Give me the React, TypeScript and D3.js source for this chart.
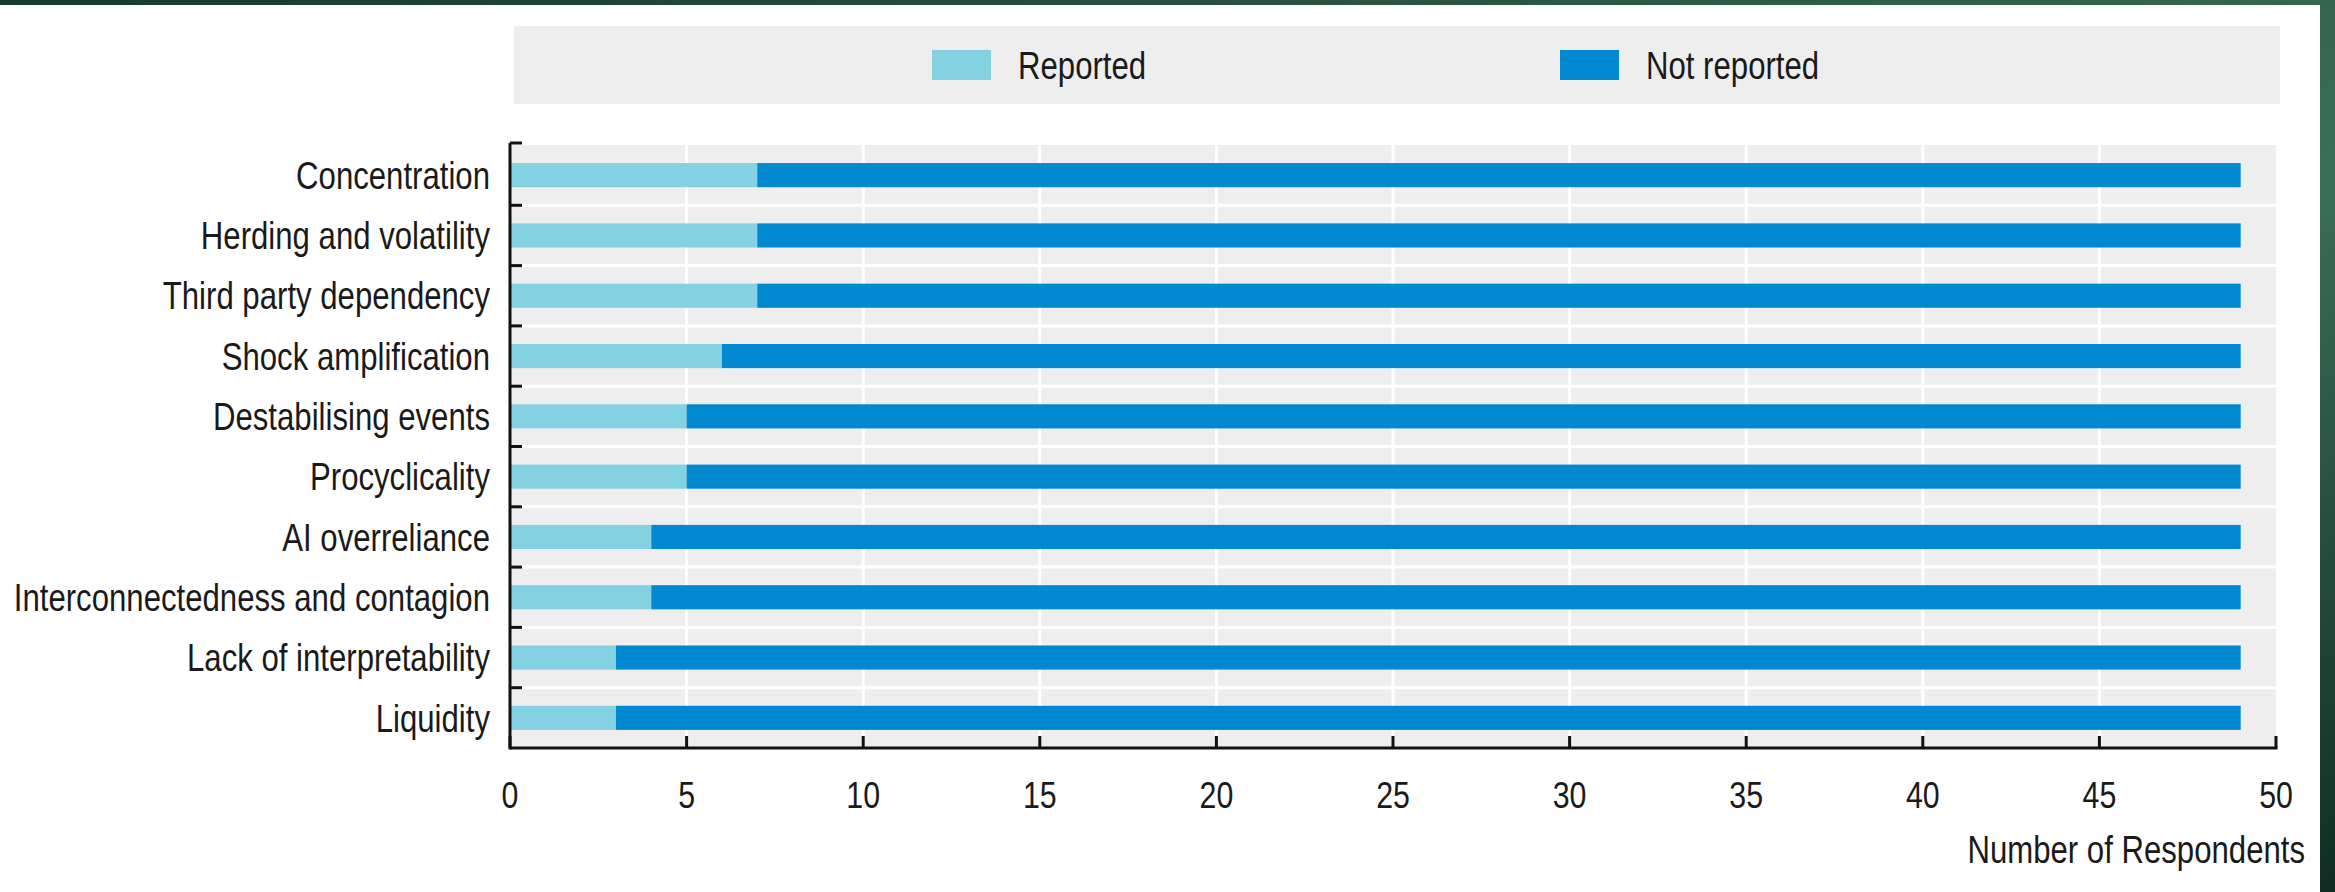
import React, { useEffect, useRef } from "react";
import * as d3 from "d3";

const categories = [
  "Concentration",
  "Herding and volatility",
  "Third party dependency",
  "Shock amplification",
  "Destabilising events",
  "Procyclicality",
  "AI overreliance",
  "Interconnectedness and contagion",
  "Lack of interpretability",
  "Liquidity",
];
const reported = [7, 7, 7, 6, 5, 5, 4, 4, 3, 3];
const notReported = [42, 42, 42, 43, 44, 44, 45, 45, 46, 46];
const xTicks = [0, 5, 10, 15, 20, 25, 30, 35, 40, 45, 50];
const seriesNames = ["Reported", "Not reported"];
const seriesColors = ["#84d1e1", "#0088d0"];

// no narrow font installed, so squeeze Liberation Sans horizontally
const FONT = "'Liberation Sans', Arial, sans-serif";
const NARROW = 0.82;

export default function App() {
  const ref = useRef<SVGSVGElement>(null);

  useEffect(() => {
    if (!ref.current) return;
    const width = 2335;
    const height = 892;
    const svg = d3.select(ref.current);
    svg.selectAll("*").remove();

    const label = (
      px: number,
      py: number,
      txt: string,
      anchor = "start",
      size = 38,
      dy = "0"
    ) =>
      svg
        .append("text")
        .attr("transform", `translate(${px},${py}) scale(${NARROW},1)`)
        .attr("dy", dy)
        .attr("text-anchor", anchor)
        .style("font-family", FONT)
        .style("font-size", `${size}px`)
        .attr("fill", "#1a1a1a")
        .text(txt);

    // background frame (green gradient like the slide)
    const defs = svg.append("defs");
    const grad = defs
      .append("linearGradient")
      .attr("id", "bg")
      .attr("x1", "0%")
      .attr("y1", "0%")
      .attr("x2", "100%")
      .attr("y2", "100%");
    grad.append("stop").attr("offset", "0%").attr("stop-color", "#163a2b");
    grad.append("stop").attr("offset", "60%").attr("stop-color", "#3b6f57");
    grad.append("stop").attr("offset", "100%").attr("stop-color", "#0f2d22");
    svg.append("rect").attr("width", width).attr("height", height).attr("fill", "url(#bg)");
    svg.append("rect").attr("x", 0).attr("y", 5).attr("width", 2320).attr("height", height - 5).attr("fill", "#fff");

    const margin = { top: 145, left: 510, right: 2276, bottom: 748 };

    const x = d3.scaleLinear().domain([0, 50]).range([margin.left, margin.right]);
    const y = d3.scaleBand<string>().domain(categories).range([margin.top, margin.bottom]);
    const barH = y.bandwidth() * 0.4;

    // legend
    svg
      .append("rect")
      .attr("x", 514)
      .attr("y", 26)
      .attr("width", 2280 - 514)
      .attr("height", 78)
      .attr("fill", "#eeeeee");
    const legendX = [932, 1560];
    seriesNames.forEach((name, i) => {
      svg
        .append("rect")
        .attr("x", legendX[i])
        .attr("y", 50)
        .attr("width", 59)
        .attr("height", 30)
        .attr("fill", seriesColors[i]);
      label(legendX[i] + 86, 65, name, "start", 38, "0.36em");
    });

    // plot background
    svg
      .append("rect")
      .attr("x", margin.left)
      .attr("y", margin.top)
      .attr("width", margin.right - margin.left)
      .attr("height", margin.bottom - margin.top)
      .attr("fill", "#eeeeee");

    // white gridlines
    svg
      .selectAll(".vgrid")
      .data(xTicks.slice(1, -1))
      .enter()
      .append("line")
      .attr("x1", (d) => x(d))
      .attr("x2", (d) => x(d))
      .attr("y1", margin.top)
      .attr("y2", margin.bottom)
      .attr("stroke", "#fff")
      .attr("stroke-width", 3);
    svg
      .selectAll(".hgrid")
      .data(categories.slice(1))
      .enter()
      .append("line")
      .attr("x1", margin.left)
      .attr("x2", margin.right)
      .attr("y1", (d) => y(d)!)
      .attr("y2", (d) => y(d)!)
      .attr("stroke", "#fff")
      .attr("stroke-width", 3);

    // stacked bars
    const rows = categories.map((c, i) => ({ c, r: reported[i], n: notReported[i] }));
    const stack = d3.stack<any>().keys(["r", "n"])(rows);
    stack.forEach((layer, li) => {
      svg
        .selectAll(`.bar${li}`)
        .data(layer)
        .enter()
        .append("rect")
        .attr("x", (d) => x(d[0]))
        .attr("width", (d) => x(d[1]) - x(d[0]))
        .attr("y", (d) => y(d.data.c)! + (y.bandwidth() - barH) / 2)
        .attr("height", barH)
        .attr("fill", seriesColors[li]);
    });

    // y axis
    svg
      .append("line")
      .attr("x1", margin.left)
      .attr("x2", margin.left)
      .attr("y1", margin.top - 2)
      .attr("y2", margin.bottom + 1.5)
      .attr("stroke", "#111")
      .attr("stroke-width", 3);
    const yTickPos = categories.map((c) => y(c)!);
    svg
      .selectAll(".ytick")
      .data(yTickPos)
      .enter()
      .append("line")
      .attr("x1", margin.left)
      .attr("x2", margin.left + 12)
      .attr("y1", (d, i) => (i === 0 ? d - 2 : d))
      .attr("y2", (d, i) => (i === 0 ? d - 2 : d))
      .attr("stroke", "#111")
      .attr("stroke-width", 3);
    categories.forEach((c) => label(490, y(c)! + y.bandwidth() / 2, c, "end", 38, "0.36em"));

    // x axis
    svg
      .append("line")
      .attr("x1", margin.left)
      .attr("x2", margin.right + 1.5)
      .attr("y1", margin.bottom)
      .attr("y2", margin.bottom)
      .attr("stroke", "#111")
      .attr("stroke-width", 3);
    svg
      .selectAll(".xtick")
      .data(xTicks)
      .enter()
      .append("line")
      .attr("x1", (d) => x(d))
      .attr("x2", (d) => x(d))
      .attr("y1", margin.bottom)
      .attr("y2", margin.bottom - 12)
      .attr("stroke", "#111")
      .attr("stroke-width", 3);
    xTicks.forEach((t) => label(x(t), 808, String(t), "middle", 37));

    label(2305, 863, "Number of Respondents", "end", 38);
  }, []);

  return (
    <div style={{ position: "absolute", left: 0, top: 0 }}>
      <svg ref={ref} width={2335} height={892} style={{ display: "block" }} />
    </div>
  );
}
